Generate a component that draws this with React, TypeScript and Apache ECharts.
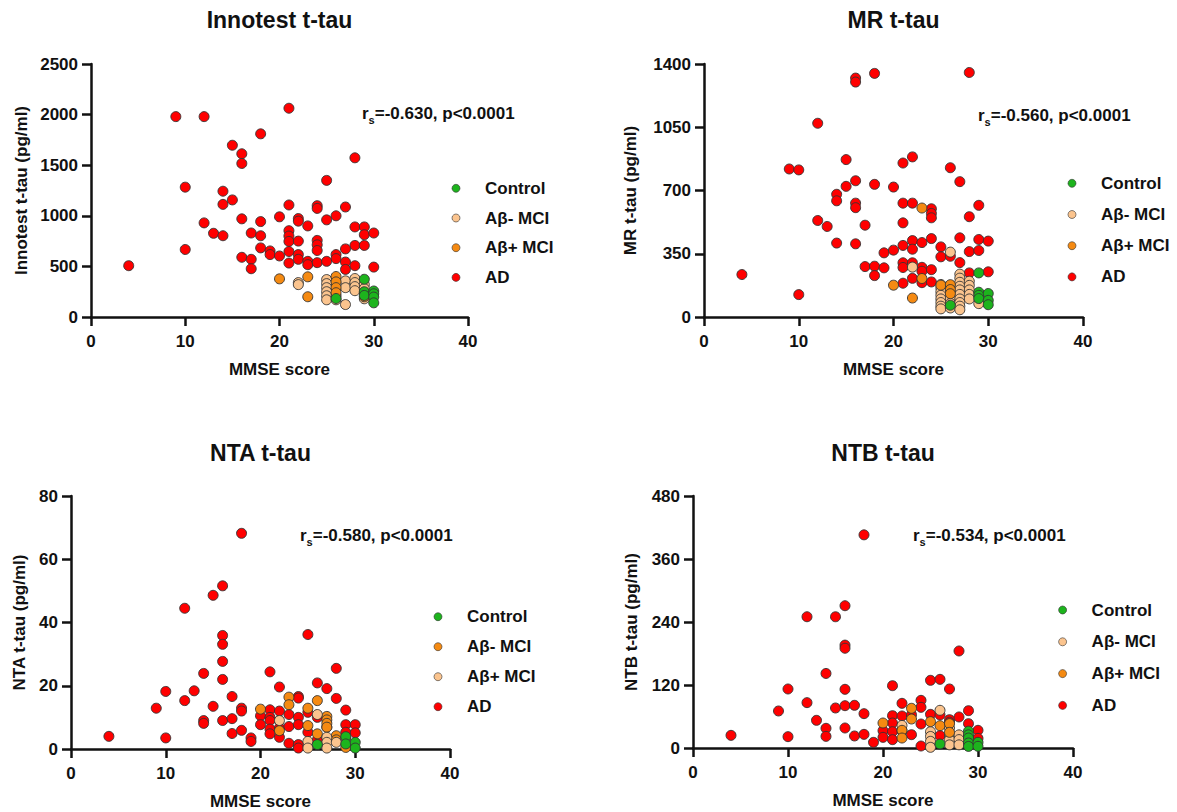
import React, { useEffect, useRef } from 'react';
import * as echarts from 'echarts';

// ---------- data ----------
const groupNames = ['Control', 'Aβ- MCI', 'Aβ+ MCI', 'AD'];
const xTicks = [0, 10, 20, 30, 40];

// Innotest t-tau
const innoControl = [[26,183],[29,373],[29,250],[29,213],[30,257],[30,230],[30,197],[30,140]];
const innoNeg = [[22,340],[22,320],[25,370],[25,330],[25,290],[25,250],[25,210],[25,170],[26,210],[26,170],[27,357],[27,290],[27,123],[28,380],[28,340],[28,300],[28,260],[29,320],[29,280],[29,180]];
const innoPos = [[20,377],[23,397],[23,200],[26,400],[26,347],[26,290],[26,240],[29,240],[29,200]];
const innoAD = [[4,507],[9,1980],[12,1980],[21,2063],[18,1810],[15,1697],[16,1613],[16,1517],[28,1573],[10,1283],[25,1350],[14,1243],[15,1157],[14,1113],[21,1107],[24,1100],[24,1073],[27,1087],[20,990],[22,973],[22,947],[26,1000],[16,970],[18,943],[25,960],[23,900],[12,930],[28,890],[29,890],[29,813],[30,830],[13,827],[14,803],[17,830],[18,803],[21,853],[21,800],[21,747],[22,750],[24,757],[24,713],[24,657],[28,707],[29,707],[27,673],[18,683],[10,667],[19,653],[19,617],[20,603],[21,647],[22,617],[22,570],[26,617],[26,577],[16,590],[17,570],[17,477],[21,533],[23,550],[23,517],[24,537],[25,550],[27,543],[27,470],[28,507],[30,493]];

// MR t-tau
const mrControl = [[26,65],[29,244],[29,137],[29,120],[29,102],[30,130],[30,92],[30,68]];
const mrNeg = [[22,276],[26,359],[25,180],[25,160],[25,140],[25,120],[25,100],[25,80],[25,60],[25,45],[26,100],[26,75],[26,50],[27,237],[27,215],[27,192],[27,170],[27,150],[27,125],[27,100],[27,80],[27,60],[27,40],[28,198],[28,175],[28,150],[28,125],[28,100],[29,74]];
const mrPos = [[23,603],[20,176],[22,105],[23,213],[25,176],[26,179],[26,152],[26,129]];
const mrAD = [[4,235],[10,124],[9,819],[10,814],[12,1072],[12,534],[13,501],[14,679],[14,643],[14,409],[15,871],[15,723],[16,1322],[16,1300],[16,754],[16,630],[16,605],[16,405],[17,508],[17,279],[18,1348],[18,734],[18,281],[18,229],[19,355],[19,272],[20,719],[20,370],[21,852],[21,630],[21,521],[21,396],[21,300],[21,274],[21,187],[22,886],[22,630],[22,423],[22,375],[22,300],[22,214],[23,412],[23,275],[23,253],[23,190],[24,599],[24,573],[24,549],[24,434],[24,262],[24,194],[25,388],[25,333],[26,826],[26,336],[27,749],[27,438],[27,301],[28,1353],[28,555],[28,362],[28,244],[29,618],[29,429],[29,368],[30,420],[30,250]];

// NTA t-tau (legend of this panel lists the darker orange as Aβ- MCI)
const ntaControl = [[26,1.4],[29,3.9],[29,1.6],[30,2.1],[30,0.3]];
const ntaNeg = [[20,12.6],[22,5.8],[23,16.4],[23,14.0],[25,12.9],[25,7.4],[26,15.3],[26,4.8],[27,10.3],[27,9.2],[27,8.1],[27,6.9],[28,4.2],[28,2.9],[29,0.5]];
const ntaPos = [[22,9.0],[26,10.9],[25,2.4],[25,0.3],[27,3.7],[27,2.1],[27,0.3],[28,2.1],[29,3.5]];
const ntaAD = [[4,4.0],[9,12.9],[10,18.2],[10,3.5],[12,44.5],[12,15.3],[13,18.4],[14,23.9],[14,9.0],[14,8.1],[15,48.6],[15,13.5],[16,51.6],[16,35.9],[16,33.1],[16,27.7],[16,22.0],[16,9.0],[17,16.6],[17,9.6],[17,4.9],[18,68.2],[18,12.9],[18,12.0],[18,5.9],[19,3.5],[19,2.4],[20,10.5],[20,7.7],[21,24.4],[21,12.4],[21,10.0],[21,9.0],[21,6.3],[21,4.8],[22,19.6],[22,12.0],[22,6.7],[22,3.7],[23,10.9],[23,7.1],[23,1.8],[24,16.6],[24,16.1],[24,10.0],[24,7.7],[24,1.4],[24,0.3],[25,36.2],[25,11.6],[25,5.3],[26,20.9],[26,10.0],[26,2.9],[27,19.1],[27,6.9],[28,25.5],[28,16.0],[29,12.3],[29,7.7],[29,5.3],[30,7.7],[30,5.1]];

// NTB t-tau
const ntbControl = [[26,7.6],[29,32],[29,25],[29,19],[29,9.5],[29,3],[30,10.8],[30,3.2]];
const ntbNeg = [[22,43],[26,71.8],[25,31],[25,22],[25,12.7],[25,1.3],[27,38],[27,25],[27,16],[27,6],[28,25],[28,16],[28,6]];
const ntbPos = [[20,47.6],[22,33.7],[22,19],[23,75.6],[23,55.2],[25,50.2],[26,42.5],[27,46.4],[27,29.8]];
const ntbAD = [[4,24.1],[9,70.5],[10,112.4],[10,21.6],[12,250],[12,86.4],[13,52.7],[14,142],[14,37.5],[14,22.2],[15,250],[15,76.2],[16,271],[16,196],[16,190],[16,111.8],[16,80.6],[16,38.1],[17,81.3],[17,22.9],[18,406],[18,65.4],[18,26.0],[19,10.8],[20,33.0],[20,20.3],[21,118.7],[21,61.6],[21,47.6],[21,31.1],[21,15.9],[22,85.1],[22,61],[22,32.4],[23,63.5],[23,25.4],[24,90.8],[24,77.5],[24,45.7],[24,3.8],[25,128.9],[25,64.1],[26,130.8],[26,62.9],[26,23.5],[27,112.4],[27,54],[27,49],[28,184.8],[28,59.1],[29,71.1],[29,46.4],[30,33.7],[30,18.4]];

const titles = ['Innotest t-tau', 'MR t-tau', 'NTA t-tau', 'NTB t-tau'];
const yNames = ['Innotest t-tau (pg/ml)', 'MR t-tau (pg/ml)', 'NTA t-tau (pg/ml)', 'NTB t-tau (pg/ml)'];
const yMaxes = [2500, 1400, 80, 480];
const ySteps = [500, 350, 20, 120];
const statTexts = ['=-0.630, p<0.0001', '=-0.560, p<0.0001', '=-0.580, p<0.0001', '=-0.534, p<0.0001'];

// ---------- styles / layout ----------
const FONT = '"Liberation Sans", Arial, Helvetica, sans-serif';
const GREEN = '#1db41d';
const PEACH = '#fbc48e';
const ORANGE = '#f58a12';
const RED = '#ff0000';
const INK = '#111111';

const grids = [
  { left: 91, top: 64, width: 377, height: 253 },
  { left: 704, top: 64, width: 379, height: 253 },
  { left: 71, top: 496, width: 379, height: 253 },
  { left: 693, top: 496, width: 380, height: 252 },
];
const yNameGaps = [61, 65, 43, 53];
const legendPos = [
  { cx: 455.7, cy: 188.3, step: 29.7 },
  { cx: 1071.7, cy: 183.3, step: 31.2 },
  { cx: 437.7, cy: 616.7, step: 30.0 },
  { cx: 1062.3, cy: 610.0, step: 31.8 },
];
const statPos = [
  { x: 362, y: 113 },
  { x: 978, y: 115 },
  { x: 300, y: 535 },
  { x: 913, y: 535 },
];

function buildOption() {
  const panelData = [
    [innoControl, innoNeg, innoPos, innoAD],
    [mrControl, mrNeg, mrPos, mrAD],
    [ntaControl, ntaNeg, ntaPos, ntaAD],
    [ntbControl, ntbNeg, ntbPos, ntbAD],
  ];
  const panelColors = [
    [GREEN, PEACH, ORANGE, RED],
    [GREEN, PEACH, ORANGE, RED],
    [GREEN, ORANGE, PEACH, RED],
    [GREEN, PEACH, ORANGE, RED],
  ];
  const label = { fontSize: 17, fontWeight: 'bold', color: INK, fontFamily: FONT };
  const axisLine = { show: true, onZero: false, lineStyle: { color: INK, width: 2.5 } };
  const axisTick = { show: true, length: 9, lineStyle: { color: INK, width: 2.5 } };
  const plain = (v: number) => String(v);

  const xAxis = grids.map((_, i) => ({
    type: 'value', gridIndex: i, min: xTicks[0], max: xTicks[xTicks.length - 1], interval: 10,
    name: 'MMSE score', nameLocation: 'middle', nameGap: 44,
    nameTextStyle: { ...label },
    axisLine, axisTick, splitLine: { show: false },
    axisLabel: { ...label, margin: 16, formatter: plain },
  }));
  const yAxis = grids.map((_, i) => ({
    type: 'value', gridIndex: i, min: 0, max: yMaxes[i], interval: ySteps[i],
    name: yNames[i], nameLocation: 'middle', nameGap: yNameGaps[i],
    nameTextStyle: { ...label },
    axisLine, axisTick, splitLine: { show: false },
    axisLabel: { ...label, margin: 13, formatter: plain },
  }));

  const series: any[] = [];
  const drawOrder = [3, 1, 2, 0];
  panelData.forEach((groups, p) => {
    drawOrder.forEach((g, k) => {
      series.push({
        type: 'scatter', name: groupNames[g], xAxisIndex: p, yAxisIndex: p,
        data: groups[g], symbol: 'circle', symbolSize: 10, z: 2 + k,
        itemStyle: { color: panelColors[p][g], borderColor: '#333333', borderWidth: 0.9, opacity: 1 },
        emphasis: { disabled: true },
      });
    });
  });

  const legend = legendPos.map((lp, p) => ({
    orient: 'vertical', left: lp.cx - 4, top: lp.cy - 8.5, padding: 0,
    itemWidth: 8, itemHeight: 8, itemGap: lp.step - 17, icon: 'circle', selectedMode: false,
    textStyle: { ...label, padding: [0, 0, 0, 20] },
    data: groupNames.map((n, g) => ({
      name: n,
      itemStyle: { color: panelColors[p][g], borderColor: '#333333', borderWidth: 0.6 },
    })),
  }));

  const graphic: any[] = [];
  grids.forEach((gr, p) => {
    const titleY = p < 2 ? 20 : 453;
    graphic.push({
      type: 'text', x: gr.left + gr.width / 2, y: titleY,
      style: { text: titles[p], fontSize: 23, fontWeight: 'bold', fontFamily: FONT, fill: INK, align: 'center', verticalAlign: 'middle' },
    });
    graphic.push({
      type: 'text', x: statPos[p].x, y: statPos[p].y,
      style: {
        text: '{a|r}{b|s}{a|' + statTexts[p] + '}',
        align: 'left', verticalAlign: 'middle',
        rich: {
          a: { fontSize: 17, fontWeight: 'bold', fontFamily: FONT, fill: INK, lineHeight: 24 },
          b: { fontSize: 11, fontWeight: 'bold', fontFamily: FONT, fill: INK, lineHeight: 11, verticalAlign: 'bottom' },
        },
      },
    });
  });

  return {
    animation: false,
    backgroundColor: '#ffffff',
    textStyle: { fontFamily: FONT },
    grid: grids.map((g) => ({ ...g, containLabel: false })),
    xAxis, yAxis, series, legend, graphic,
  };
}

export default function App() {
  const ref = useRef<HTMLDivElement>(null);
  useEffect(() => {
    if (!ref.current) return;
    const chart = echarts.init(ref.current, null, { renderer: 'svg' });
    chart.setOption(buildOption() as any);
    return () => chart.dispose();
  }, []);
  return (
    <div
      ref={ref}
      style={{ position: 'fixed', left: 0, top: 0, width: 1177, height: 812, background: '#fff' }}
    />
  );
}
